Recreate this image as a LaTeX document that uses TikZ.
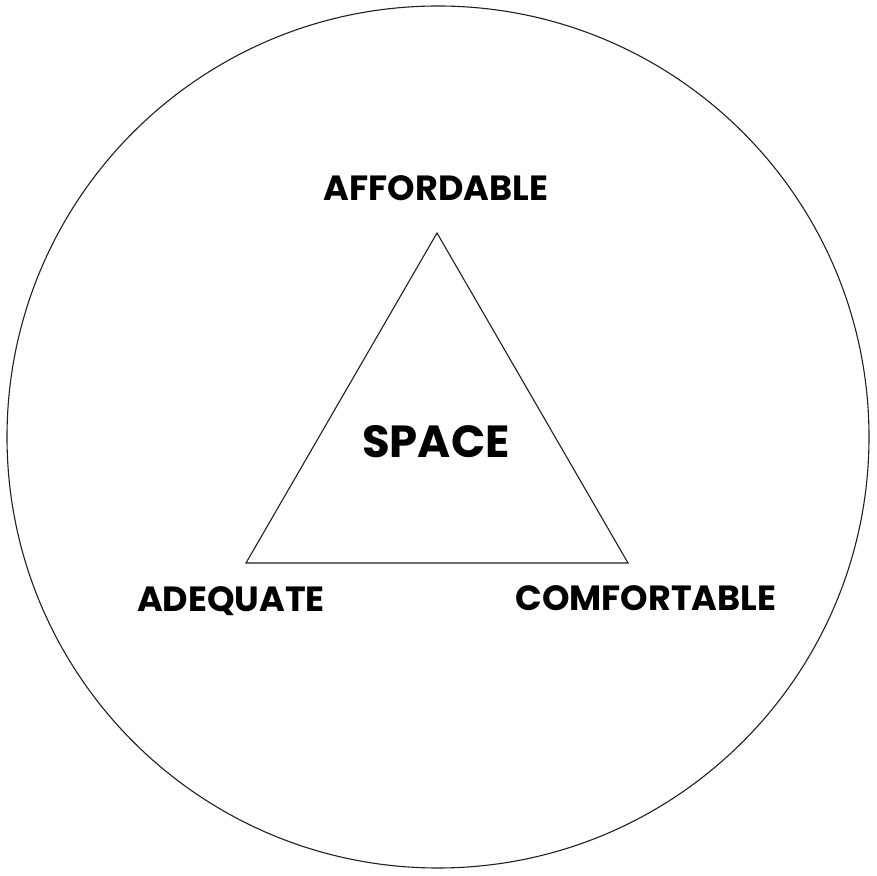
\documentclass[tikz,border=0pt]{standalone}
\usepackage{fontspec}
\setmainfont{Poppins}[BoldFont={* Bold}]
\definecolor{lineink}{HTML}{231F20}
\begin{document}
\begin{tikzpicture}[x=1pt,y=1pt,
  label/.style={font=\fontsize{35}{38}\selectfont\bfseries, text=black, inner sep=0pt, anchor=base},
  title/.style={font=\fontsize{45}{48}\selectfont\bfseries, text=black, inner sep=0pt, anchor=base},
  edge/.style={draw=lineink, line width=1.1pt}]
\useasboundingbox (0,0) rectangle (877,875);
\node[draw=lineink, line width=1.1pt, circle, minimum size=862pt, inner sep=0pt] (ring) at (438,438) {};
\coordinate (top) at (437,642);
\coordinate (bl) at (246,312);
\coordinate (br) at (628,312);
\draw[edge] (top) -- (bl) -- (br) -- cycle;
\node[label] (aff) at (436,674) {AFFORDABLE};
\node[label] (ade) at (231,263) {ADEQUATE};
\node[label] (com) at (646,264) {COMFORTABLE};
\node[title] (space) at (436,417) {SPACE};
\end{tikzpicture}
\end{document}
